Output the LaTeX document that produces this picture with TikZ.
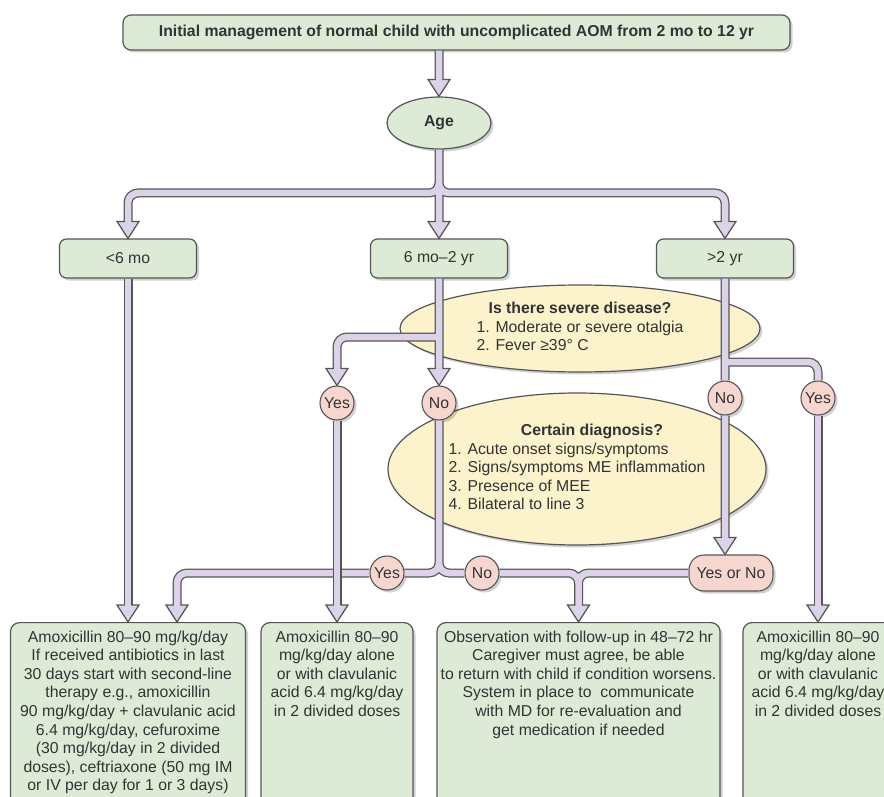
\documentclass[tikz,border=0pt]{standalone}
\usepackage{fontspec}
\setmainfont{Liberation Sans}
\usetikzlibrary{calc,shadows,shapes.geometric}

\definecolor{pipefill}{HTML}{DCD3E9}
\definecolor{rim}{HTML}{555555}
\definecolor{boxgreen}{HTML}{DDEBD6}
\definecolor{ellyellow}{HTML}{FCF2CC}
\definecolor{pinkc}{HTML}{F7D6CF}
\definecolor{ink}{HTML}{333333}

\tikzset{
  softshadow/.style={drop shadow={shadow xshift=2.5pt,shadow yshift=-2.5pt,fill=black,opacity=0.18}},
  titlebox/.style={draw=rim,line width=1.2pt,fill=boxgreen,rounded corners=8pt,minimum width=667pt,minimum height=35pt,inner sep=0pt,softshadow},
  stepbox/.style={draw=rim,line width=1.2pt,fill=boxgreen,rounded corners=7pt,minimum width=137pt,minimum height=39pt,inner sep=0pt,softshadow},
  agebubble/.style={ellipse,draw=rim,line width=1.2pt,fill=boxgreen,minimum width=104pt,minimum height=52pt,inner sep=0pt,softshadow},
  question/.style={ellipse,draw=rim,line width=1.2pt,fill=ellyellow,inner sep=0pt,softshadow},
  answer/.style={circle,draw=rim,line width=1.1pt,fill=pinkc,minimum size=34pt,inner sep=0pt,softshadow},
  answerbox/.style={draw=rim,line width=1.1pt,fill=pinkc,rounded corners=15pt,minimum width=84pt,minimum height=36pt,inner sep=0pt,softshadow},
  dosebox/.style={draw=rim,line width=1.2pt,fill=boxgreen,rounded corners=9pt,anchor=north,inner sep=0pt,softshadow},
  pipe/.style={draw=pipefill,line width=6.5pt,rounded corners=10pt,preaction={draw=rim,line width=9pt}}
}

% hollow arrow head whose tip sits on #1
\newcommand\headat[1]{%
  \fill[pipefill] ($(#1)+(-11pt,17pt)$) -- (#1) -- ($(#1)+(11pt,17pt)$) -- cycle;
  \draw[draw=rim,line width=1.25pt] ($(#1)+(3.25pt,17pt)$) -- ($(#1)+(11pt,17pt)$) -- (#1) -- ($(#1)+(-11pt,17pt)$) -- ($(#1)+(-3.25pt,17pt)$);}

\begin{document}
\begin{tikzpicture}[x=1pt,y=1pt,font=\fontsize{15.8}{18.6}\selectfont,text=ink]
\useasboundingbox (0,0) rectangle (884,-797);
\clip (0,0) rectangle (884,-797);

% age rows
\node[titlebox] (title) at (456.5,-32.5) {\textbf{Initial management of normal child with uncomplicated AOM from 2 mo to 12 yr}};
\node[agebubble] (age) at (439,-123) {\textbf{Age}};
\node[stepbox] (lessix) at (128,-258.5) {<6 mo};
\node[stepbox] (mid) at (439,-258.5) {6 mo–2 yr};
\node[stepbox] (gttwo) at (725,-258.5) {>2 yr};

% questions
\node[question,minimum width=360pt,minimum height=87pt] (severe) at (580,-328.5)
  {\begin{tabular}{@{}l@{}}\multicolumn{1}{@{}c@{}}{\textbf{Is there severe disease?}}\\
   1. Moderate or severe otalgia\\ 2. Fever ≥39° C\end{tabular}};
\node[question,minimum width=378pt,minimum height=152pt] (certain) at (577,-469)
  {\begin{tabular}{@{}l@{}}\multicolumn{1}{@{}c@{}}{\hspace{30pt}\textbf{Certain diagnosis?}}\\
   1. Acute onset signs/symptoms\\ 2. Signs/symptoms ME inflammation\\
   3. Presence of MEE\\ 4. Bilateral to line 3\end{tabular}};

% answers
\node[answer] (yes1) at (337,-403) {Yes};
\node[answer] (no1) at (439,-403) {No};
\node[answer] (no2) at (725,-398) {No};
\node[answer] (yes2) at (818,-398) {Yes};
\node[answer] (yes3) at (387,-573) {Yes};
\node[answer] (no3) at (482,-573) {No};
\node[answerbox] (yn) at (731,-573) {Yes or No};

% treatments
\node[dosebox] (box1) at (128,-622) {\parbox[t][185pt][t]{235pt}{\centering\vspace*{8pt}%
  Amoxicillin 80–90 mg/kg/day\\ If received antibiotics in last\\ 30 days start with second-line\\
  therapy e.g., amoxicillin\\ 90 mg/kg/day + clavulanic acid\\ 6.4 mg/kg/day, cefuroxime\\
  (30 mg/kg/day in 2 divided\\ doses), ceftriaxone (50 mg IM\\ or IV per day for 1 or 3 days)}};
\node[dosebox] (box2) at (337,-622) {\parbox[t][185pt][t]{152pt}{\centering\vspace*{8pt}%
  Amoxicillin 80–90\\ mg/kg/day alone\\ or with clavulanic\\ acid 6.4 mg/kg/day\\ in 2 divided doses}};
\node[dosebox] (box3) at (578.5,-622) {\parbox[t][185pt][t]{283pt}{\centering\vspace*{8pt}%
  Observation with follow-up in 48–72 hr\\ Caregiver must agree, be able\\
  to return with child if condition worsens.\\ System in place to\ \ communicate\\
  with MD for re-evaluation and\\ get medication if needed}};
\node[dosebox] (box4) at (818,-622) {\parbox[t][185pt][t]{150pt}{\centering\vspace*{8pt}%
  Amoxicillin 80–90\\ mg/kg/day alone\\ or with clavulanic\\ acid 6.4 mg/kg/day\\ in 2 divided doses}};

\coordinate (agebar) at (439,-193);
\coordinate (midsplit) at (439,-337);
\coordinate (gtsplit) at (725,-362);
\coordinate (yn top) at (no2.south |- yn.north);
\coordinate (box1 side) at ([xshift=49pt]box1.north);

% connectors
\draw[pipe] (title.south -| age.north) -- ([yshift=17pt]age.north)
  (age.south) -- ([yshift=17pt]mid.north)
  (age.south) -- (agebar) -| ([yshift=17pt]lessix.north)
  (age.south) -- (agebar) -| ([yshift=17pt]gttwo.north);
\headat{age.north} \headat{lessix.north} \headat{mid.north} \headat{gttwo.north}

\draw[pipe] (mid.south) -- ([yshift=17pt]no1.north)
  (midsplit) -| ([yshift=17pt]yes1.north);
\headat{no1.north} \headat{yes1.north}

\draw[pipe] (gttwo.south) -- (no2.north)
  (gtsplit) -| (yes2.north);

\draw[pipe] (no1.south) |- (yes3.east)
  (yes3.west) -| ([yshift=17pt]box1 side)
  (no1.south) |- (no3.west)
  (no3.east) -| ([yshift=17pt]box3.north)
  (yn.west) -| ([yshift=17pt]box3.north)
  (no2.south) -- ([yshift=17pt]yn top);
\headat{box1 side} \headat{box3.north} \headat{yn top}

\draw[pipe] (lessix.south) -- ([yshift=17pt]box1.north);
\headat{box1.north}
\draw[pipe] (yes1.south) -- ([yshift=17pt]box2.north);
\headat{box2.north}
\draw[pipe] (yes2.south) -- ([yshift=17pt]box4.north);
\headat{box4.north}
\end{tikzpicture}
\end{document}
